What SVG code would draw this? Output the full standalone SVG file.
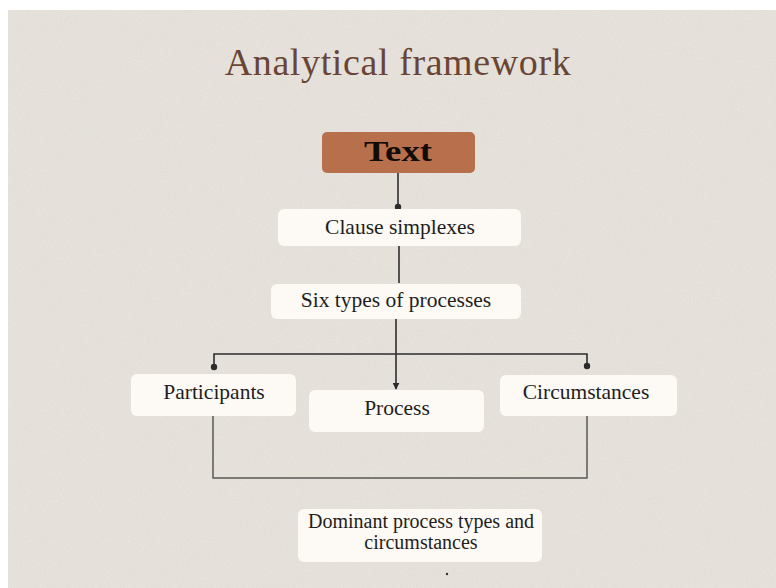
<svg xmlns="http://www.w3.org/2000/svg" width="776" height="588" viewBox="0 0 776 588">
  <defs>
    <filter id="grain" x="0" y="0" width="100%" height="100%">
      <feTurbulence type="fractalNoise" baseFrequency="0.85" numOctaves="2" seed="7" result="n"/>
      <feColorMatrix in="n" type="matrix" values="0 0 0 0 0.55  0 0 0 0 0.53  0 0 0 0 0.5  0 0 0 0.7 -0.15"/>
    </filter>
    <marker id="arrow" viewBox="0 0 10 10" refX="9" refY="5" markerWidth="7" markerHeight="7" orient="auto" markerUnits="userSpaceOnUse">
      <path d="M0,0 L10,5 L0,10 z" fill="#2b2b2b"/>
    </marker>
  </defs>
  <style>
    .box { fill: #fdf9f4; }
    .label { font-family: "Liberation Serif", "DejaVu Serif", serif; font-size: 21.5px; fill: #1e1e1e; text-anchor: middle; }
    .link { fill: none; stroke: #2e2e2e; stroke-width: 1.6; }
    .bracket { fill: none; stroke: #5a5855; stroke-width: 1.5; }
    .dot { fill: #2b2b2b; }
  </style>

  <!-- paper background -->
  <rect x="0" y="0" width="776" height="588" fill="#ffffff"/>
  <rect x="8" y="10" width="768" height="578" fill="#e8e4dd"/>
  <rect x="8" y="10" width="768" height="578" filter="url(#grain)" opacity="0.45"/>

  <text x="398" y="75" font-family="Liberation Serif, DejaVu Serif, serif" font-size="38" fill="#6a4535" text-anchor="middle" letter-spacing="0.6">Analytical framework</text>

  <!-- connectors -->
  <g id="connectors">
    <path class="link" d="M398,173 V207"/>
    <circle class="dot" cx="398" cy="207" r="3.2"/>
    <path class="link" d="M399,246 V283"/>
    <path class="link" d="M396,319 V389" marker-end="url(#arrow)"/>
    <path class="link" d="M214,367 V354 H587 V367"/>
    <circle class="dot" cx="214" cy="367" r="3.2"/>
    <circle class="dot" cx="587" cy="366" r="3.2"/>
    <path class="bracket" d="M213,416 V478 H587 V416"/>
  </g>

  <g id="node-text">
    <rect x="322" y="132" width="153" height="41" rx="5" fill="#b8704c"/>
    <text x="398" y="161" font-family="Liberation Serif, DejaVu Serif, serif" font-size="30" font-weight="bold" fill="#120c08" text-anchor="middle" textLength="68" lengthAdjust="spacingAndGlyphs">Text</text>
  </g>

  <g id="node-clause">
    <rect class="box" x="278" y="209" width="243" height="37" rx="6"/>
    <text class="label" x="400" y="234">Clause simplexes</text>
  </g>

  <g id="node-six-types">
    <rect class="box" x="271" y="284" width="250" height="35" rx="6"/>
    <text class="label" x="396" y="307">Six types of processes</text>
  </g>

  <g id="node-participants">
    <rect class="box" x="131" y="374" width="165" height="42" rx="6"/>
    <text class="label" x="214" y="399">Participants</text>
  </g>

  <g id="node-process">
    <rect class="box" x="309" y="390" width="175" height="42" rx="6"/>
    <text class="label" x="397" y="415">Process</text>
  </g>

  <g id="node-circumstances">
    <rect class="box" x="500" y="375" width="177" height="41" rx="6"/>
    <text class="label" x="586" y="399">Circumstances</text>
  </g>

  <g id="node-dominant">
    <rect class="box" x="298" y="509" width="244" height="53" rx="6"/>
    <text class="label" x="421" y="528" style="font-size:20px">Dominant process types and</text>
    <text class="label" x="421" y="549" style="font-size:20px">circumstances</text>
  </g>

  <circle cx="447" cy="574" r="1.2" fill="#333"/>
</svg>
